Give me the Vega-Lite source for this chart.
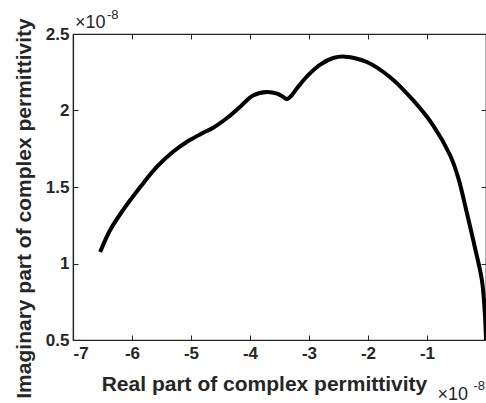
{
  "$schema": "https://vega.github.io/schema/vega-lite/v6.json",
  "width": 413,
  "height": 306,
  "autosize": {"type": "none"},
  "padding": {"left": 73, "top": 34, "right": 0, "bottom": 63},
  "background": "white",
  "config": {
    "font": "Liberation Sans",
    "view": {"stroke": "#262626", "strokeWidth": 1.2},
    "axis": {"grid": false, "domain": true, "domainColor": "#262626", "domainWidth": 1.2, "ticks": true, "tickColor": "#262626", "tickWidth": 1, "labelColor": "#262626", "titleColor": "#262626", "labelFont": "Liberation Sans", "titleFont": "Liberation Sans"}
  },
  "datasets": {
    "curve": [
      {"re": -6.54e-8, "im": 1.075e-8},
      {"re": -6.37e-8, "im": 1.219e-8},
      {"re": -6.15e-8, "im": 1.350e-8},
      {"re": -5.86e-8, "im": 1.500e-8},
      {"re": -5.58e-8, "im": 1.631e-8},
      {"re": -5.31e-8, "im": 1.729e-8},
      {"re": -5.02e-8, "im": 1.807e-8},
      {"re": -4.80e-8, "im": 1.853e-8},
      {"re": -4.63e-8, "im": 1.886e-8},
      {"re": -4.39e-8, "im": 1.951e-8},
      {"re": -4.17e-8, "im": 2.023e-8},
      {"re": -3.95e-8, "im": 2.098e-8},
      {"re": -3.71e-8, "im": 2.121e-8},
      {"re": -3.54e-8, "im": 2.110e-8},
      {"re": -3.45e-8, "im": 2.092e-8},
      {"re": -3.37e-8, "im": 2.075e-8},
      {"re": -3.29e-8, "im": 2.101e-8},
      {"re": -3.20e-8, "im": 2.147e-8},
      {"re": -3.03e-8, "im": 2.225e-8},
      {"re": -2.81e-8, "im": 2.300e-8},
      {"re": -2.59e-8, "im": 2.343e-8},
      {"re": -2.39e-8, "im": 2.352e-8},
      {"re": -2.02e-8, "im": 2.317e-8},
      {"re": -1.63e-8, "im": 2.219e-8},
      {"re": -1.24e-8, "im": 2.069e-8},
      {"re": -0.90e-8, "im": 1.905e-8},
      {"re": -0.61e-8, "im": 1.709e-8},
      {"re": -0.47e-8, "im": 1.560e-8},
      {"re": -0.33e-8, "im": 1.340e-8},
      {"re": -0.19e-8, "im": 1.108e-8},
      {"re": -0.07e-8, "im": 0.892e-8},
      {"re": -0.02e-8, "im": 0.676e-8},
      {"re": 0.0, "im": 0.5e-8}
    ]
  },
  "layer": [
    {
      "data": {"name": "curve"},
      "mark": {"type": "line", "color": "black", "strokeWidth": 4, "interpolate": "catmull-rom", "clip": true},
      "encoding": {
        "x": {"field": "re", "type": "quantitative",
          "scale": {"domain": [-7e-8, 0], "nice": false, "zero": false},
          "axis": {"orient": "bottom", "values": [-7e-8, -6e-8, -5e-8, -4e-8, -3e-8, -2e-8, -1e-8, 0],
            "labelExpr": "datum.value === 0 ? '' : replace(format(datum.value * 1e8, '~g'), '\u2212', '-')",
            "tickSize": -5, "labelPadding": 10, "labelFontSize": 17, "labelFontWeight": "bold",
            "title": "Real part of complex permittivity", "titleFontSize": 21, "titleFontWeight": "bold", "titlePadding": 12,
            "titleX": 191, "titleAlign": "center"}},
        "y": {"field": "im", "type": "quantitative",
          "scale": {"domain": [0.5e-8, 2.5e-8], "nice": false, "zero": false},
          "axis": {"orient": "left", "values": [0.5e-8, 1e-8, 1.5e-8, 2e-8, 2.5e-8],
            "labelExpr": "format(datum.value * 1e8, '~g')",
            "tickSize": -5, "labelPadding": 9, "labelFontSize": 17, "labelFontWeight": "bold",
            "title": "Imaginary part of complex permittivity", "titleFontSize": 21, "titleFontWeight": "bold",
            "titleY": 174, "titleX": -49, "titleBaseline": "middle"}}
      }
    },
    {
      "data": {"name": "curve"},
      "mark": {"type": "point", "opacity": 0},
      "encoding": {
        "x": {"field": "re", "type": "quantitative",
          "scale": {"domain": [-7e-8, 0], "nice": false, "zero": false},
          "axis": {"orient": "top", "values": [-7e-8, -6e-8, -5e-8, -4e-8, -3e-8, -2e-8, -1e-8, 0], "labels": false, "tickSize": -5, "title": null}},
        "y": {"field": "im", "type": "quantitative",
          "scale": {"domain": [0.5e-8, 2.5e-8], "nice": false, "zero": false},
          "axis": {"orient": "right", "values": [0.5e-8, 1e-8, 1.5e-8, 2e-8, 2.5e-8], "labels": false, "tickSize": -5, "title": null}}
      }
    },
    {
      "data": {"values": [{"re": -7e-8, "im": 2.5e-8, "t": "×10"}]},
      "mark": {"type": "text", "fontSize": 18, "align": "left", "baseline": "alphabetic", "dx": 2, "dy": -6, "color": "#262626"},
      "encoding": {"x": {"field": "re", "type": "quantitative", "axis": null}, "y": {"field": "im", "type": "quantitative", "axis": null}, "text": {"field": "t"}}
    },
    {
      "data": {"values": [{"re": -7e-8, "im": 2.5e-8, "t": "-8"}]},
      "mark": {"type": "text", "fontSize": 13, "align": "left", "baseline": "alphabetic", "dx": 34, "dy": -15, "color": "#262626"},
      "encoding": {"x": {"field": "re", "type": "quantitative", "axis": null}, "y": {"field": "im", "type": "quantitative", "axis": null}, "text": {"field": "t"}}
    },
    {
      "data": {"values": [{"re": 0, "im": 0.5e-8, "t": "×10"}]},
      "mark": {"type": "text", "fontSize": 18, "align": "right", "baseline": "alphabetic", "dx": -18, "dy": 60, "color": "#262626"},
      "encoding": {"x": {"field": "re", "type": "quantitative", "axis": null}, "y": {"field": "im", "type": "quantitative", "axis": null}, "text": {"field": "t"}}
    },
    {
      "data": {"values": [{"re": 0, "im": 0.5e-8, "t": "-8"}]},
      "mark": {"type": "text", "fontSize": 13, "align": "right", "baseline": "alphabetic", "dx": -1, "dy": 50, "color": "#262626"},
      "encoding": {"x": {"field": "re", "type": "quantitative", "axis": null}, "y": {"field": "im", "type": "quantitative", "axis": null}, "text": {"field": "t"}}
    }
  ],
  "resolve": {"axis": {"x": "independent", "y": "independent"}}
}
